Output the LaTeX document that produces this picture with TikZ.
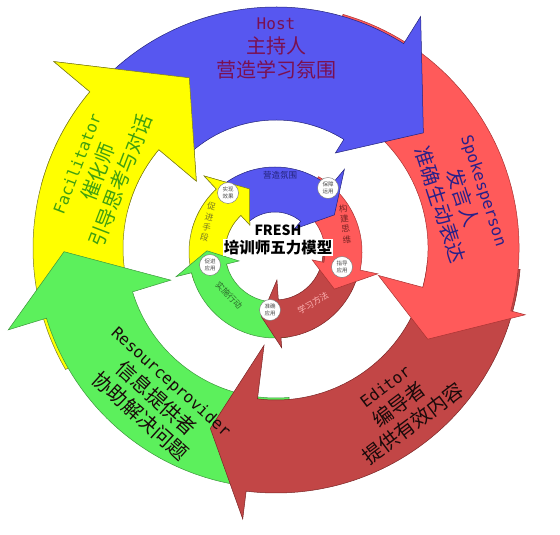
\documentclass[tikz,border=0pt]{standalone}
\usepackage{fontspec}
\newfontfamily\cjk{Noto Sans CJK SC}
\newfontfamily\mono{DejaVu Sans Mono}
\usetikzlibrary{positioning}
\definecolor{HostBlue}{HTML}{5757F0}
\definecolor{HostLine}{HTML}{23237A}
\definecolor{SpokesRed}{HTML}{FF5A5A}
\definecolor{SpokesLine}{HTML}{A83232}
\definecolor{EditorRed}{HTML}{C24646}
\definecolor{EditorLine}{HTML}{7A2424}
\definecolor{ResGreen}{HTML}{5CF05C}
\definecolor{ResLine}{HTML}{3C963C}
\definecolor{FacYellow}{HTML}{FFFF00}
\definecolor{FacLine}{HTML}{7A7A20}
\definecolor{HostText}{HTML}{7A1050}
\definecolor{SpokesText}{HTML}{28208A}
\definecolor{FacText}{HTML}{3FA010}
\definecolor{DarkText}{HTML}{1A0A0A}
\definecolor{SmallText}{HTML}{4A4A4A}
% #1 style, #2 tail angle, #3 head base, #4 tip angle, #5 inner r, #6 outer r, #7 inner barb, #8 outer barb, #9 tip r
\newcommand{\ringarrow}[9]{%
  \filldraw[#1] (#2:#6) arc[start angle=#2,end angle=#3,radius=#6]
    -- (#3:#8) -- (#4:#9) -- (#3:#7) -- (#3:#5)
    arc[start angle=#3,end angle=#2,radius=#5] -- cycle;}
\newcommand{\eng}[1]{{\mono\fontsize{16}{24}\selectfont #1}}

\begin{document}
\begin{tikzpicture}[x=1pt,y=1pt,
  ringlabel/.style={align=center,inner sep=0pt,font=\cjk\fontsize{20}{24}\selectfont},
  stagelabel/.style={align=center,inner sep=0pt,font=\cjk\fontsize{8.5}{10.5}\selectfont},
  stagecircle/.style={circle,draw=black!55,fill=white,minimum size=21pt,inner sep=0pt,align=center,
    font=\cjk\fontsize{5.5}{6.5}\selectfont,text=SmallText},
  yel/.style={fill=FacYellow,draw=FacLine,line width=0.5pt},
  grn/.style={fill=ResGreen,draw=ResLine,line width=0.5pt},
  dred/.style={fill=EditorRed,draw=EditorLine,line width=0.5pt},
  red/.style={fill=SpokesRed,draw=SpokesLine,line width=0.5pt},
  blu/.style={fill=HostBlue,draw=HostLine,line width=0.5pt},
]
\useasboundingbox (0,0) rectangle (560,535);

% outer ring
\begin{scope}[shift={(276,287)}]
  \ringarrow{yel}{210}{140}{117}{153}{243}{104}{290}{191}
  \ringarrow{grn}{-85}{-163}{-179}{150}{240}{110}{280}{212}
  \ringarrow{dred}{-5}{-97}{-110}{152}{245}{98}{273}{192}
  \ringarrow{red}{74}{-15}{-31}{152}{243}{106}{258}{177}
  \ringarrow{blu}{136}{58}{38}{128}{241}{112}{273}{187}
  \begin{scope}
    \clip (0,0) -- (100:400) arc[start angle=100,end angle=165,radius=400] -- cycle;
    \ringarrow{yel}{210}{140}{117}{153}{243}{104}{290}{191}
  \end{scope}
\end{scope}

% inner ring
\begin{scope}[shift={(275,283)}]
  \ringarrow{yel}{200}{133}{112}{50}{86}{37}{104}{68}
  \ringarrow{grn}{-80}{-166}{-181}{50}{86}{37}{102}{68}
  \ringarrow{dred}{-5}{-86}{-102}{48}{86}{28}{96}{66}
  \ringarrow{red}{60}{-12}{-32}{50}{87}{38}{105}{70}
  \ringarrow{blu}{130}{50}{32}{40}{85}{30}{108}{70}
  \begin{scope}
    \clip (0,0) -- (95:200) arc[start angle=95,end angle=165,radius=200] -- cycle;
    \ringarrow{yel}{200}{133}{112}{50}{86}{37}{104}{68}
  \end{scope}
\end{scope}

% outer labels
\node[ringlabel,text=HostText] (host) at (276,486) {\eng{Host}\\主持人\\营造学习氛围};
\node[ringlabel,text=SpokesText,rotate=-72] (spokes) at (461,337) {\eng{Spokesperson}\\发言人\\准确生动表达};
\node[ringlabel,text=DarkText,rotate=37] (editor) at (400,129) {\eng{Editor}\\编导者\\提供有效内容};
\node[ringlabel,text=DarkText,rotate=-42] (resource) at (155,135) {\eng{Resourceprovider}\\信息提供者\\协助解决问题};
\node[ringlabel,text=FacText,rotate=69] (facil) at (100,362) {\eng{Facilitator}\\催化师\\引导思考与对话};

% inner labels
\node[stagelabel,text=HostLine] (atmos) at (280,360) {营造氛围};
\node[stagelabel,text=EditorLine,rotate=7] (think) at (345,311) {构\\建\\思\\维};
\node[stagelabel,text=SpokesRed!45,rotate=30] (method) at (313,232) {学习方法};
\node[stagelabel,text=ResLine!70!black,rotate=-46] (action) at (229,240) {实施行动};
\node[stagelabel,text=FacLine,rotate=-13] (means) at (208,313) {促\\进\\手\\段};

% stage circles
\node[stagecircle] (effect) at (228,342) {实现\\效果};
\node[stagecircle] (guard) at (328,347) {保障\\运用};
\node[stagecircle] (guide) at (342,268) {指导\\应用};
\node[stagecircle] (exact) at (270,225) {准确\\应用};
\node[stagecircle] (promote) at (210,270) {促进\\应用};

% centre title
\node[font=\cjk\bfseries\fontsize{14}{16}\selectfont,inner sep=0pt] (fresh) at (278,305) {FRESH};
\node[font=\cjk\bfseries\fontsize{15.5}{17}\selectfont,fill=white,inner sep=1pt] (model) at (278,287.5) {培训师五力模型};
\end{tikzpicture}
\end{document}
